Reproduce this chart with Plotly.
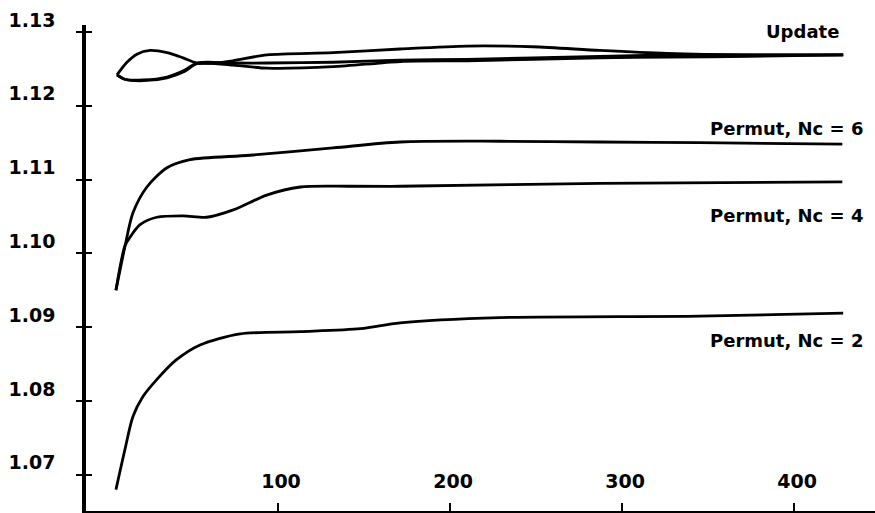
import plotly.graph_objects as go

# ---- data ----
x_ticks = [100, 200, 300, 400]
x_tick_labels = ["100", "200", "300", "400"]
y_ticks = [1.07, 1.08, 1.09, 1.10, 1.11, 1.12, 1.13]
y_tick_labels = ["1.07", "1.08", "1.09", "1.10", "1.11", "1.12", "1.13"]

upd_a_x = [6.4, 12.2, 18.0, 25.6, 35.5, 44.8, 52.9, 63.4, 73.8, 93.6, 132, 171, 210, 248, 287, 326, 374, 428.5]
upd_a_y = [1.1242, 1.1259, 1.1270, 1.1275, 1.1272, 1.1265, 1.1258, 1.1258, 1.1261, 1.1269, 1.1272,
           1.1277, 1.1281, 1.1280, 1.1275, 1.1271, 1.1269, 1.1269]

upd_b_x = [6.4, 11, 21.5, 35.5, 45.9, 52.9, 73.8, 93.6, 132, 171, 210, 248, 287, 326, 374, 428.5]
upd_b_y = [1.1242, 1.1236, 1.1235, 1.1239, 1.12485, 1.1258, 1.1258, 1.1258, 1.1259, 1.1262,
           1.1263, 1.1265, 1.1267, 1.1269, 1.1269, 1.1269]

upd_c_x = [6.4, 11, 21.5, 35.5, 45.9, 52.9, 73.8, 93.6, 132, 171, 210, 248, 287, 326, 374, 428.5]
upd_c_y = [1.1242, 1.1236, 1.1234, 1.1238, 1.1247, 1.1257, 1.1255, 1.1251, 1.1253, 1.1260,
           1.1261, 1.1263, 1.1265, 1.1266, 1.1267, 1.1269]

nc6_x = [5.8, 11, 15.7, 23.8, 35.5, 48.8, 83.7, 132, 171, 229, 287, 345, 428]
nc6_y = [1.0950, 1.1009, 1.1055, 1.1090, 1.1116, 1.1127, 1.1133, 1.1143, 1.1151, 1.1152, 1.1151, 1.1150, 1.1148]

nc4_x = [5.8, 11, 14, 19.8, 29.5, 45, 58.5, 74, 93.4, 113, 142, 171, 287, 428]
nc4_y = [1.0950, 1.1010, 1.1022, 1.1039, 1.1049, 1.1051, 1.1049, 1.1059, 1.1079, 1.1090, 1.1091, 1.1091, 1.1095, 1.1097]

nc2_x = [5.8, 11, 15.7, 21.5, 29.5, 41, 54.7, 78, 113, 148, 171, 229, 345, 428.5]
nc2_y = [1.0680, 1.0734, 1.0779, 1.0806, 1.0829, 1.0856, 1.0876, 1.0891, 1.0894, 1.0898, 1.0906, 1.0913, 1.0915, 1.0919]

labels = ["Update", "Permut, Nc = 6", "Permut, Nc = 4", "Permut, Nc = 2"]
label_x = [427.0, 441.0, 441.0, 441.0]
label_y = [1.1301, 1.1169, 1.1052, 1.0882]

X_RANGE = [-11.6, 447]
Y_RANGE = [1.0651, 1.13095]

FONT = "DejaVu Sans"
line_style = dict(color="black", width=2.8, shape="spline", smoothing=0.8)

fig = go.Figure()
for xs, ys in [(upd_a_x, upd_a_y), (upd_b_x, upd_b_y), (upd_c_x, upd_c_y),
               (nc6_x, nc6_y), (nc4_x, nc4_y)]:
    fig.add_trace(go.Scatter(x=xs, y=ys, mode="lines", line=line_style, hoverinfo="skip"))
fig.add_trace(go.Scatter(x=nc2_x, y=nc2_y, mode="lines", line=line_style, yaxis="y2", hoverinfo="skip"))

for t, xx, yy in zip(labels, label_x, label_y):
    fig.add_annotation(x=xx, y=yy, xref="x", yref="y", text=t, showarrow=False,
                       xanchor="right", yanchor="middle",
                       font=dict(family=FONT, size=18, color="black", weight="bold"))

tickfont = dict(family=FONT, size=19, color="black", weight="bold")

fig.update_layout(
    width=875, height=513, autosize=False,
    margin=dict(l=86, r=0, t=25, b=2, pad=0),
    plot_bgcolor="white", paper_bgcolor="white", showlegend=False,
    xaxis=dict(range=X_RANGE, tickvals=x_ticks, ticktext=x_tick_labels,
               ticks="inside", ticklen=8, tickwidth=2, tickcolor="black",
               showline=True, linewidth=3, linecolor="black",
               showgrid=False, zeroline=False, automargin=False,
               ticklabelposition="outside", ticklabelstandoff=-49, ticklabelshift=3,
               tickfont=tickfont),
    yaxis=dict(range=Y_RANGE, tickvals=y_ticks, ticktext=y_tick_labels,
               ticks="outside", ticklen=6, tickwidth=2, tickcolor="black",
               showline=True, linewidth=3.5, linecolor="black",
               showgrid=False, zeroline=False, automargin=False,
               ticklabelshift=-12, ticklabelstandoff=17, ticklabeloverflow="allow",
               tickfont=tickfont),
    yaxis2=dict(range=Y_RANGE, overlaying="y", side="left", tickvals=y_ticks,
                ticks="inside", ticklen=6, tickwidth=2, tickcolor="black",
                showticklabels=False, showline=False, showgrid=False, zeroline=False,
                automargin=False),
)

fig.write_html("out.html", config={"displayModeBar": False},
               post_script="document.body.style.margin='0';document.body.style.padding='0';")
